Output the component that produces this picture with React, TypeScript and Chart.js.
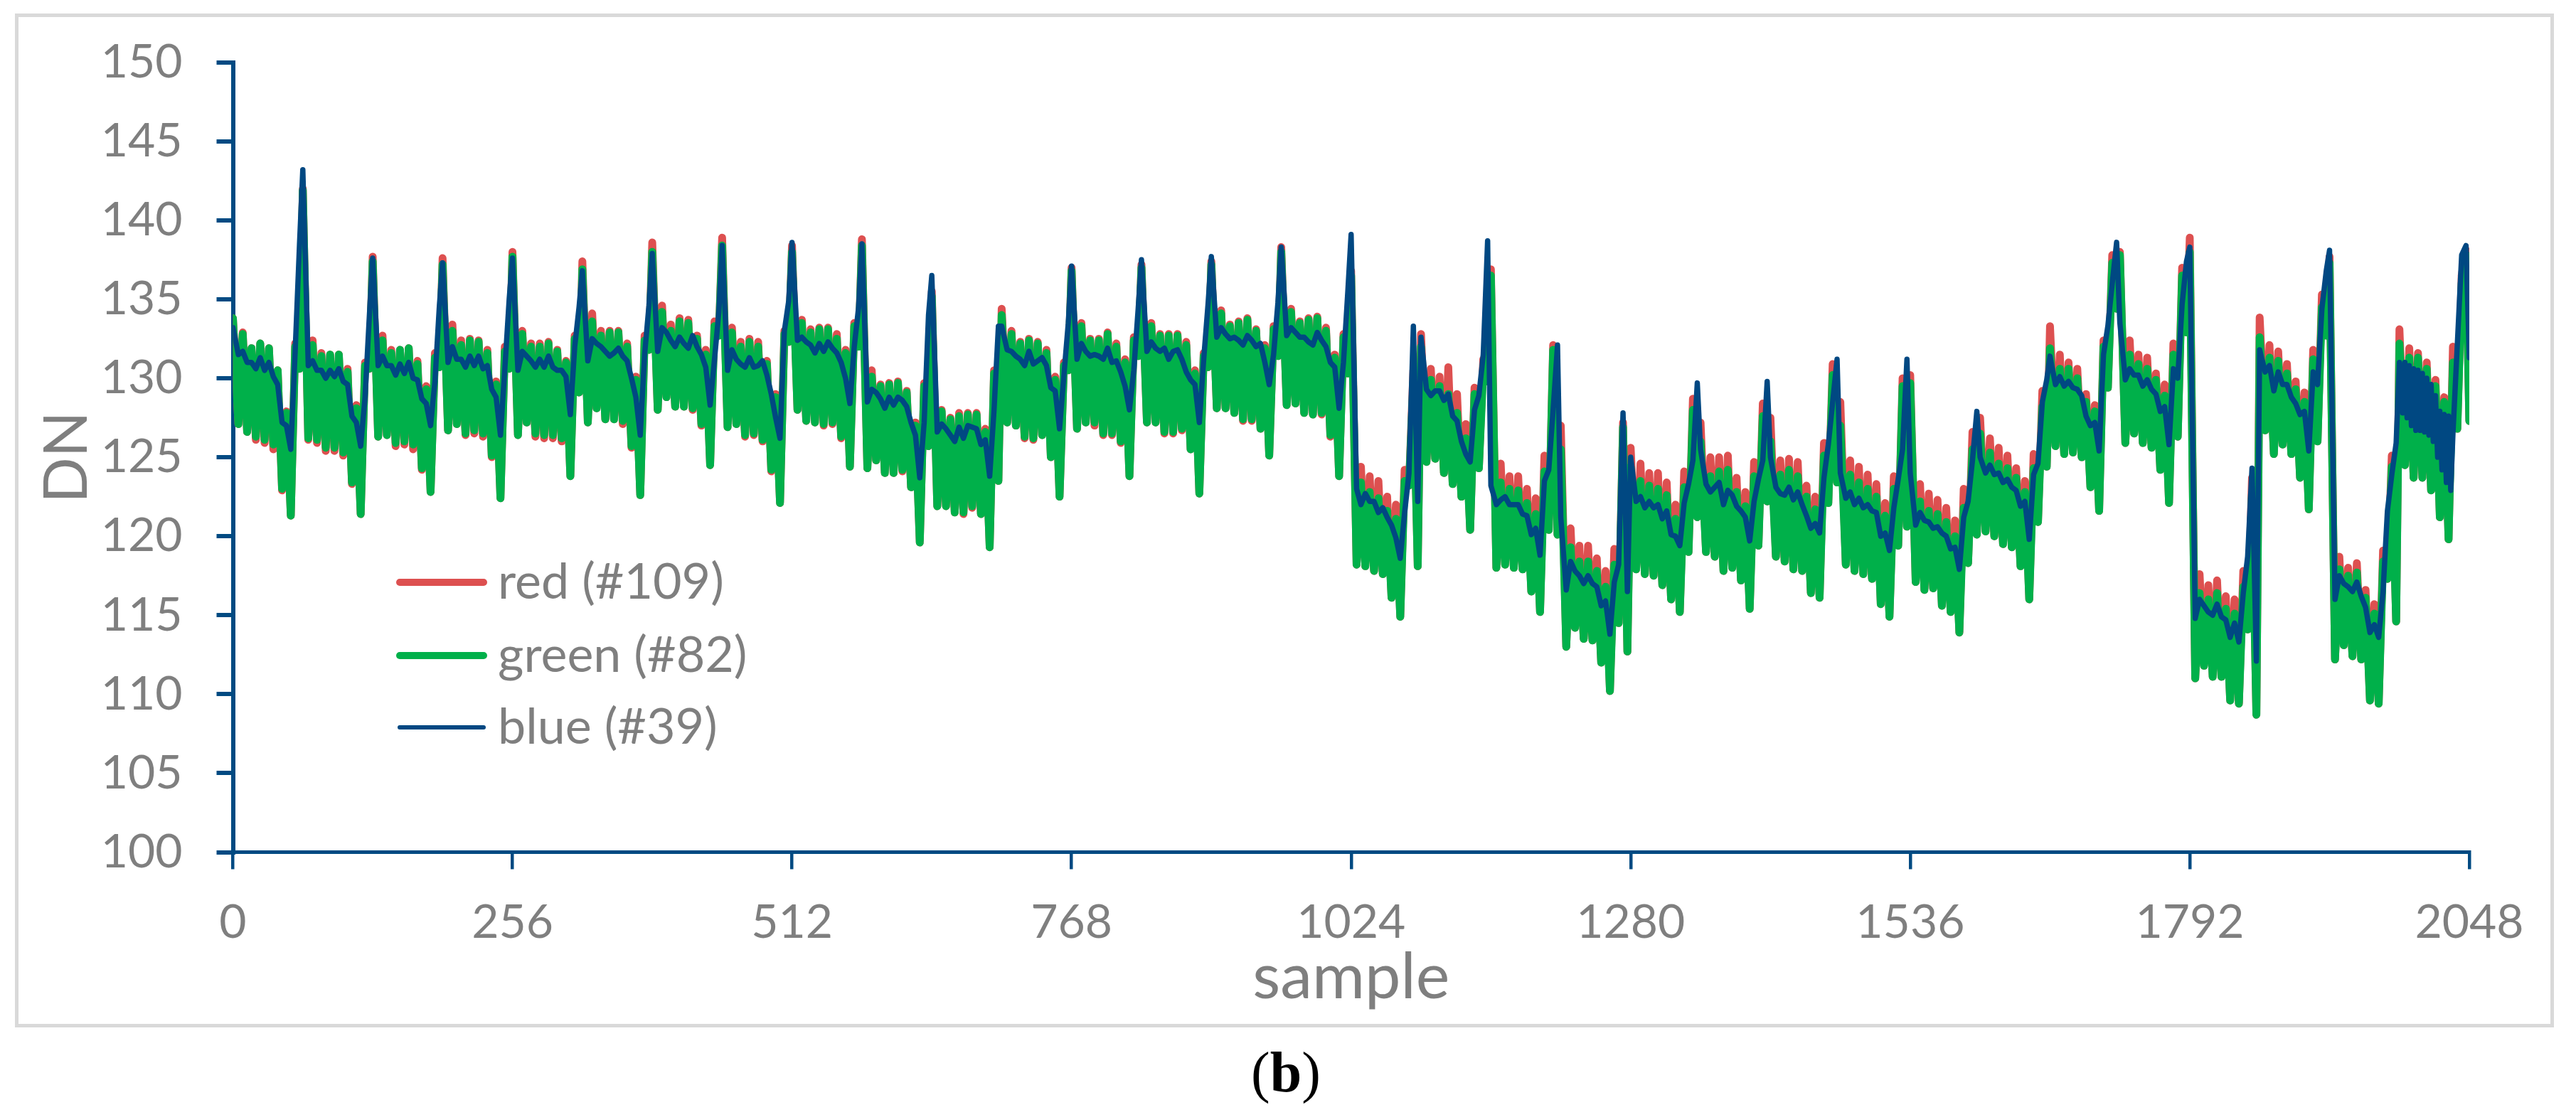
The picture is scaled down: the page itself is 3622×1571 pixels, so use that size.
import React, { useEffect, useRef } from "react";
import Chart from "chart.js/auto";

// One row per 64-sample scan block.
const cycleOffsets = [0, 5, 9, 13, 17, 21, 25, 29, 33, 37, 41, 45, 49, 53, 57, 61];

const redDN = [
  133.8,127.1,132.9,126.6,131.9,126.1,132.2,125.9,131.9,125.5,130.5,122.9,127.9,121.3,132.2,130.6,
  142,126.1,132.4,125.9,131.6,125.4,131.5,125.4,131.5,125.1,130.6,123.3,128.3,121.4,131,130.6,
  137.7,126.3,132.7,126.4,131.8,125.7,131.8,125.8,131.9,125.5,131.1,124.2,129.5,122.8,131.6,130.7,
  137.6,126.7,133.4,127.1,132.4,126.4,132.5,126.5,132.4,126.3,131.8,125,129.8,122.4,132,130.6,
  138,126.4,133,127.2,132.2,126.3,132.2,126.2,132.3,126.2,131.8,126,131.1,123.8,132.7,129.1,
  137.4,127.2,134.1,128.1,133,127.4,133,127.4,133,127.1,132.2,125.6,130.1,122.6,132.7,131.8,
  138.6,128,134.6,128.8,133.4,128.2,133.8,128.2,133.7,128,132.7,127,131.8,124.5,133.6,132.7,
  138.9,126.9,133.2,127.1,132.3,126.3,132.5,126.4,132.3,126,131.1,124.1,129,122.1,133,132.3,
  138.4,128,133.7,127.3,133.1,127.2,133.2,127,133.2,127.1,132.8,126.2,131.8,124.4,133.5,132,
  138.8,124.3,130.5,124.8,129.6,124,129.7,124,129.8,124.1,129.2,123.1,127.2,119.6,129.7,125.7,
  135.5,121.9,128,121.9,127.5,121.5,127.8,121.4,127.8,121.8,127.8,121.4,126.8,119.3,130.5,123.5,
  134.4,127.2,133,127,132.3,126.2,132.5,126.1,132.3,126.4,131.8,125,130.1,122.5,131,130.5,
  137,126.8,133.5,127.2,132.5,127,132.5,126.4,132.9,126.4,132.2,125.9,131.2,123.8,132.6,131.4,
  137.2,127.2,133.5,127.2,132.8,126.5,132.8,126.5,132.8,126.7,132.3,125.5,130.5,122.7,131.6,130.7,
  137.4,128.1,134.3,128.1,133.4,127.8,133.6,127.3,133.8,127.3,133.1,126.8,132.1,125.1,133.3,131.4,
  138.3,128.3,134.4,128.4,133.6,127.8,133.8,127.7,133.9,127.7,133.2,126.3,131.5,123.8,132.8,130.3,
  136.8,118.2,124.4,118.1,123.8,117.8,123.5,117.6,122.5,116.1,122,114.9,124.2,123.2,130.5,118.1,
  132.8,124.7,130.6,124.9,130.1,124,130.7,123.3,129,122.5,127.1,120.4,129.4,124.3,131.2,129.8,
  136.9,118,124.6,118.2,123.8,118,123.8,117.9,123,116.5,122.4,115.2,125.1,120.4,132.1,120.1,
  127,113,120.5,114.2,119.4,113.5,119.4,113.4,118.6,112,117.8,110.2,119.2,114.5,127.2,112.7,
  125.6,117.9,124.6,117.6,124,117.5,124,116.9,123.4,116,122,115.2,124.1,119,128.7,121.2,
  127.2,119,125,118.7,125,117.8,125.1,118,123.7,117.2,122.8,115.4,124.7,119.4,128.4,122.2,
  127.5,118.7,124.8,118.4,124.9,117.9,124.7,117.8,123.2,116.4,122.5,116.1,125.9,122.1,130.9,123.4,
  128.5,118.2,124.8,117.8,124.4,117.6,123.9,117.3,123.3,115.7,122.1,114.9,123.8,119.4,130,120.6,
  130.2,117.1,123.3,116.6,122.7,116.7,122.3,115.6,121.8,115.2,121,113.9,123,118.3,126.6,120.1,
  127.5,120.3,126.2,120,125.6,119.5,125.1,119.3,124.3,118.1,123.5,116,125.2,120.9,129.2,124.4,
  133.3,125.7,131.5,125.2,131,125.3,130.6,125,129,123.1,128.3,121.6,132.4,129.4,137.8,134.4,
  138,125.9,132.4,126.5,131.5,125.9,131.3,125.6,130.3,124.2,129.6,122.1,132.2,126.3,137,132.9,
  138.9,111,117.6,111.8,116.9,111.1,117.2,111.1,116.2,109.6,116,109.4,117.8,114.1,123.7,108.7,
  133.85,126.7,132.1,125.2,131.7,125.8,130.9,125.2,129.8,123.7,129.1,121.7,131.8,126,135.3,132.7,
  137.7,112.2,118.7,113.1,118,112.4,118.3,112.2,116.6,109.6,115.7,109.4,119.1,117.3,125.1,114.6,
  133.1,124.5,131.9,123.7,131.6,123.7,131,122.9,129.9,121.2,128.8,119.8,132,126.8,136.5,138.1,
  127.3,
];

const greenDN = [
  133.8,127.1,132.8,126.6,131.9,126.3,132.2,126.1,131.9,125.8,130.5,123,127.8,121.3,132,130.6,
  141.9,126.2,132.1,126.1,131.4,125.6,131.5,125.6,131.5,125.3,130.4,123.4,128.1,121.4,130.8,130.6,
  137.4,126.3,132.4,126.4,131.6,125.9,131.8,126,131.9,125.8,130.9,124.3,129.3,122.8,131.3,130.7,
  137.2,126.7,133,127.1,132.1,126.5,132.4,126.7,132.3,126.5,131.6,125.1,129.6,122.4,131.7,130.6,
  137.7,126.4,132.8,127.2,132,126.5,132,126.4,132.2,126.4,131.7,126.2,131,123.8,132.5,129.1,
  136.9,127.2,133.6,128.1,132.7,127.4,132.9,127.4,132.9,127.3,132,125.7,129.9,122.6,132.4,131.8,
  138,128,134.2,128.8,133,128.2,133.6,128.2,133.5,128.1,132.5,127.1,131.5,124.5,133.3,132.7,
  138.4,126.9,132.9,127.1,132,126.4,132.3,126.5,132,126.1,130.9,124.2,128.8,122.1,132.8,132.3,
  138,128,133.5,127.3,132.9,127.2,133.1,127.1,133.1,127.2,132.5,126.3,131.6,124.4,133.3,132,
  138.4,124.3,130.1,124.8,129.5,124,129.6,124,129.7,124.2,129.1,123.1,127,119.6,129.5,125.7,
  135.2,121.9,127.9,121.9,127.4,121.5,127.6,121.5,127.7,121.9,127.7,121.4,126.6,119.3,130.3,123.5,
  134,127.2,132.8,127,132.2,126.3,132.4,126.2,132.2,126.4,131.6,125,129.9,122.5,130.8,130.5,
  136.8,126.8,133.3,127.2,132.4,127.2,132.4,126.5,132.8,126.5,132,126,131,123.8,132.4,131.4,
  137,127.2,133.3,127.2,132.7,126.6,132.7,126.6,132.7,126.8,132.1,125.5,130.3,122.7,131.4,130.7,
  137.2,128.1,134.1,128.1,133.3,127.8,133.5,127.4,133.7,127.4,133,126.8,131.9,125.1,133.1,131.4,
  138,128.3,134.2,128.4,133.5,127.8,133.7,127.7,133.8,127.8,133,126.4,131.3,123.8,132.6,130.3,
  136.5,118.2,123.4,118.1,122.8,117.8,122.4,117.6,121.6,116.1,121.1,114.9,123.5,123.2,129.8,118.1,
  132,124.7,129.9,124.9,129.5,124,129,123.3,127.8,122.5,126.2,120.4,129,124.3,130.5,129.8,
  136.5,118,123.4,118.2,123,118,122.9,117.9,122.1,116.5,121.4,115.2,124.1,120.4,131.8,120.1,
  125.5,113,119.3,114.2,118.4,113.5,118.4,113.4,117.8,112,116.8,110.2,118.2,114.5,126.9,112.7,
  124.4,117.9,123.5,117.6,123.2,117.5,123,116.9,122.6,116,121.1,115.2,123.1,119,128,121.2,
  126,119,123.8,118.7,124.1,117.8,124.2,118,122.8,117.2,121.9,115.4,123.8,119.4,127.6,122.2,
  126,118.7,123.9,118.4,124.2,117.9,123.8,117.8,122.5,116.4,121.7,116.1,125.1,122.1,130.2,123.4,
  127,118.2,123.9,117.8,123.4,117.6,123,117.3,122.5,115.7,121.3,114.9,123,119.4,129.5,120.6,
  129.7,117.1,122.2,116.6,121.6,116.7,121.4,115.6,120.9,115.2,120,113.9,121.8,118.3,125.5,120.1,
  126.5,120.3,125.3,120,124.6,119.5,124.3,119.3,123.7,118.1,122.8,116,124.3,120.9,128.2,124.4,
  131.9,125.7,130.6,125.2,130.6,125.3,130,125,128.5,123.1,127.9,121.6,132,129.4,137.3,134.4,
  137.8,125.9,131.5,126.5,130.9,125.9,130.6,125.6,129.9,124.2,128.9,122.1,131.5,126.3,136.5,132.9,
  138,111,116.4,111.8,116,111.1,116.4,111.1,115.4,109.6,115.1,109.4,116.8,114.1,122.7,108.7,
  132.6,126.7,131.3,125.2,131.1,125.8,130.3,125.2,129.3,123.7,128.5,121.7,131.2,126,134.5,132.7,
  137.3,112.2,117.9,113.1,117.5,112.4,117.7,112.2,116.1,109.6,115.1,109.4,118.4,117.3,124.4,114.6,
  132.2,124.5,131.3,123.7,131.3,123.7,130.6,122.9,129.5,121.2,128.5,119.8,131,126.8,136,137.8,
  127.3,
];

// rows 0-30 on the same grid as red and green
const blueDN = [
  133.2,131.5,131.7,131,131,130.6,131.3,130.5,131,130.1,129.6,127.2,127,125.5,131.7,138.5,
  143.2,130.8,131.1,130.5,130.5,130,130.5,130.1,130.6,129.8,129.6,127.6,127.2,125.7,128.8,134,
  137.6,130.8,131.4,130.8,130.8,130.2,130.9,130.3,131,130,129.9,128.7,128.4,127,129.8,134.5,
  137.3,131,132,131.2,131.2,130.7,131.4,130.8,131.4,130.6,130.8,129.3,128.8,126.4,130.6,135,
  137.6,130.5,131.7,131.4,131.1,130.7,131.2,130.7,131.4,130.7,130.5,130.5,130.1,127.7,132,134.5,
  136.8,131.1,132.5,132.2,132,131.7,131.4,131.6,131.9,131.4,131.1,130,128.8,126.4,131.5,134.6,
  137.9,131.7,133.2,132.9,132.4,132,132.6,132.2,131.9,132.7,132,131.5,130.7,128.3,131.2,134.2,
  138.4,130.5,131.8,131.2,130.9,130.7,131.3,130.7,130.8,131.1,130.2,129,127.5,126.2,133,134.9,
  138.6,132.4,132.6,132.3,132.1,131.6,132.2,131.7,132.3,131.9,131.6,131,130,128.4,132,134.5,
  138.5,128.5,129.3,129.1,128.7,128.1,128.8,128.3,128.8,128.6,128.2,127.2,126.4,123.7,127.2,134,
  136.5,126.6,127.1,126.8,126.4,126,126.9,126.2,127,126.9,126.8,125.8,126.1,123.8,128,133.3,
  133.3,131.8,131.7,131.4,131.2,130.8,131.7,130.9,131.1,131.3,130.8,129.4,129.2,126.8,130.2,133.5,
  137.1,131.2,132.2,131.7,131.4,131.5,131.4,131.2,131.9,131,131.1,130.4,129.5,128,130.5,134.4,
  137.5,131.7,132.3,131.9,131.7,131.9,131.2,131.7,131.8,131.2,130.4,129.9,129.6,127.2,131.2,134.7,
  137.7,132.6,133.2,132.8,132.5,132.6,132.4,132.1,132.7,132.4,132,132.2,131,129.6,131.5,134.8,
  138.3,132.7,133.2,132.9,132.6,132.6,132.3,132.1,132.9,132.4,132,131,130.7,128.1,131,135.5,
  139.1,123,122,122.7,122.2,122.2,121.5,121.8,121.2,120.7,119.9,118.6,121.5,124,133.3,122.2,
  132.6,129.3,128.9,129.2,129.2,128.6,129,127.6,127.3,126,125.2,124.7,128,128.9,131.5,138.7,
  123.2,122,122.3,122.5,122,122,122,121.4,121.3,120.1,120.5,118.8,123.5,124.2,128,132.1,
  121.2,116.6,118.4,117.8,117.5,117,117.5,117,116.8,115.6,115.9,113.8,117.1,118.2,127.8,116.5,
  125,122.2,122.5,121.8,122.2,121.8,122,121.1,121.6,120.1,120,119.4,122.1,123.3,124.8,129.7,
  125.5,123.3,122.8,123.1,123.4,122,122.9,122.6,121.9,121.6,121.2,119.7,122.2,123.6,124.8,129.8,
  125,123.1,122.7,122.6,123.1,122.3,122.8,122,121.3,120.5,120.8,120.2,123.7,125.8,128.5,131.2,
  124,122.4,122.8,122,122.4,121.8,122,121.6,121.5,120,120.2,119.1,121.8,123.6,125.5,131.2,
  124,120.7,121.5,121,120.9,120.5,120.6,120.2,120,119.2,119.3,117.9,121.2,122.2,124.8,127.9,
  125,124,124.5,123.9,124,123.4,123.6,123.1,122.9,121.9,122.2,119.8,123.9,124.6,128.5,129.9,
  131.4,129.6,130.1,129.5,129.8,129.4,129.3,128.9,127.6,127,127.2,125.4,131.5,133.3,136,138.6,
  133.5,129.9,130.6,130.2,130.2,129.5,129.9,129.3,129,127.9,128.2,125.8,130.6,130,134.7,137.4,
  138.3,114.8,116,115.6,115.2,115,115.7,114.9,114.7,113.6,114.5,113.3,116.4,118.7,124.3,112.1,
  131.8,130.4,130.8,129.2,130.4,129.6,129.6,128.8,128.4,127.7,127.9,125.4,130.4,129.6,134.4,136.8,
  138.1,116,117.5,117,116.8,116.5,117.1,116.2,115.5,113.9,114.4,113.6,116.5,121.6,123.9,125.9,
];

// blue gets noisy in the last block, so it has a finer sampling there
const blueEndSamples = [
  1984,1987,1989,1991,1993,1995,1997,1999,2001,2003,2005,2007,2009,2011,2013,2015,
  2017,2019,2021,2023,2025,2027,2029,2031,2033,2037,2041,2045,2048,
];
const blueEndDN = [
  131,127.8,131,127.5,130.8,127,130.6,126.7,130.5,126.7,130.3,126.6,130,126.4,129.6,126,
  128.9,125,127.9,124.2,127.7,123.4,127.6,122.9,126.5,132.1,137.8,138.4,131.3,
];

const sampleTicks = [0, 256, 512, 768, 1024, 1280, 1536, 1792, 2048];
const seriesNames = ["red (#109)", "green (#82)", "blue (#39)"];
const seriesColors = ["#DD5050", "#00B04A", "#004882"];

const AXIS = "#004A82";
const TEXT = "#7F7F7F";
const FONT = "Lato, 'Open Sans', sans-serif";

function toPoints(values: number[]) {
  return values.map((y, i) => ({
    x: i === 512 ? 2048 : 64 * Math.floor(i / 16) + cycleOffsets[i % 16],
    y,
  }));
}

function bluePoints() {
  const end = blueEndDN.map((y, i) => ({ x: blueEndSamples[i], y }));
  return [...toPoints(blueDN), ...end];
}

// legend sits inside the plot area in the reference, so it is drawn by hand
const inlineLegend = {
  id: "inlineLegend",
  afterDraw(chart: any) {
    const { ctx } = chart;
    const rows = [819, 922, 1023];
    const thickness = [10, 10, 6];
    ctx.save();
    ctx.font = `70px ${FONT}`;
    ctx.textBaseline = "middle";
    ctx.lineCap = "round";
    chart.data.datasets.forEach((ds: any, i: number) => {
      ctx.strokeStyle = ds.borderColor;
      ctx.lineWidth = thickness[i];
      ctx.beginPath();
      ctx.moveTo(562, rows[i]);
      ctx.lineTo(680, rows[i]);
      ctx.stroke();
      ctx.fillStyle = TEXT;
      ctx.fillText(ds.label, 700, rows[i]);
    });
    ctx.restore();
  },
};

export default function App() {
  const canvasRef = useRef<HTMLCanvasElement>(null);

  useEffect(() => {
    if (!canvasRef.current) return;
    const points = [toPoints(redDN), toPoints(greenDN), bluePoints()];
    const widths = [11, 11, 7.5];
    const chart = new Chart(canvasRef.current, {
      type: "line",
      data: {
        datasets: points.map((data, i) => ({
          label: seriesNames[i],
          data,
          borderColor: seriesColors[i],
          backgroundColor: seriesColors[i],
          borderWidth: widths[i],
          borderJoinStyle: "round",
          borderCapStyle: "round",
          pointRadius: 0,
          tension: 0,
          order: 3 - i,
        })),
      },
      options: {
        responsive: false,
        devicePixelRatio: 1,
        animation: false,
        layout: { padding: { left: 0, right: 150, top: 85, bottom: 0 } },
        plugins: {
          legend: { display: false },
          tooltip: { enabled: false },
          title: { display: false },
        },
        scales: {
          x: {
            type: "linear",
            min: 0,
            max: 2048,
            afterBuildTicks: (axis: any) => {
              axis.ticks = sampleTicks.map((value) => ({ value }));
            },
            afterFit: (axis: any) => {
              axis.height = 372.5;
            },
            border: { color: AXIS, width: 5 },
            grid: {
              drawOnChartArea: false,
              color: AXIS,
              lineWidth: 4.5,
              tickLength: 24,
            },
            ticks: {
              autoSkip: false,
              maxRotation: 0,
              padding: 36,
              color: TEXT,
              font: { family: FONT, size: 66 },
              callback: (value: any) => String(value),
            },
            title: {
              display: true,
              text: "sample",
              color: TEXT,
              font: { family: FONT, size: 90 },
              padding: { top: 0, bottom: 142 },
            },
          },
          y: {
            min: 100,
            max: 150,
            afterFit: (axis: any) => {
              axis.width = 327.5;
            },
            border: { color: AXIS, width: 6 },
            grid: {
              drawOnChartArea: false,
              color: AXIS,
              lineWidth: 6,
              tickLength: 23,
            },
            ticks: {
              stepSize: 5,
              padding: 48,
              color: TEXT,
              font: { family: FONT, size: 66 },
            },
            title: {
              display: true,
              text: "DN",
              color: TEXT,
              font: { family: FONT, size: 85 },
              padding: { top: 44, bottom: 0 },
            },
          },
        },
      },
      plugins: [inlineLegend],
    } as any);
    return () => chart.destroy();
  }, []);

  return (
    <div
      style={{
        position: "absolute",
        left: 0,
        top: 0,
        width: 3622,
        height: 1571,
        background: "#fff",
        overflow: "hidden",
      }}
    >
      <div
        style={{
          position: "absolute",
          left: 21,
          top: 19,
          width: 3570,
          height: 1426,
          boxSizing: "border-box",
          border: "5px solid #D9D9D9",
        }}
      />
      <canvas
        ref={canvasRef}
        width={3622}
        height={1571}
        style={{ position: "absolute", left: 0, top: 0, display: "block" }}
      />
      <div
        style={{
          position: "absolute",
          left: 1608,
          width: 400,
          top: 1462,
          textAlign: "center",
          fontFamily: "'Liberation Serif', serif",
          fontSize: 80,
          lineHeight: "92px",
          color: "#000",
        }}
      >
        (<b>b</b>)
      </div>
    </div>
  );
}
